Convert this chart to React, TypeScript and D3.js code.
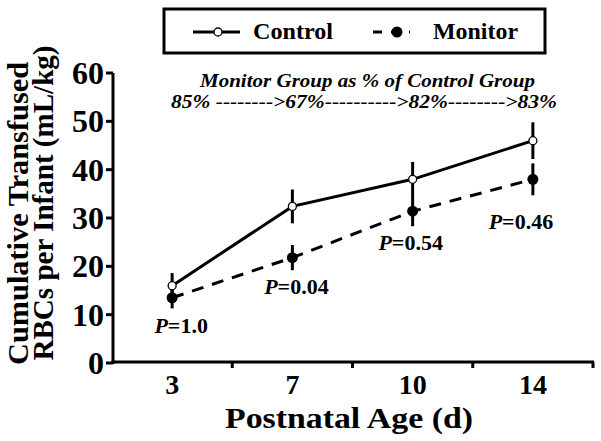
import React from "react";
import * as d3 from "d3";

const categories = ["3", "7", "10", "14"];
const controlMean = [16, 32.4, 38, 46];
const controlErr = [2.6, 3.5, 3.6, 3.8];
const monitorMean = [13.5, 21.8, 31.4, 38];
const monitorErr = [2.2, 2.6, 3.1, 3.3];
const pValues = ["1.0", "0.04", "0.54", "0.46"];
const yTicks = [0, 10, 20, 30, 40, 50, 60];

const W = 601;
const H = 441;
const FONT = "'Liberation Serif', 'Times New Roman', serif";

// label layout (pixel offsets relative to band centre / monitor point)
const pLabelDx = [9, 4, -2, -12];
const pLabelDy = [35, 36, 39, 50];

export default function App() {
  const x = d3.scaleBand<string>().domain(categories).range([112, 593]).padding(0);
  const y = d3.scaleLinear().domain([0, 60]).range([363, 73]);
  const cx = (c: string) => (x(c) as number) + x.bandwidth() / 2;

  const line = d3
    .line<number>()
    .x((_, i) => cx(categories[i]))
    .y((d) => y(d));

  const boundaries = categories.map((c) => (x(c) as number) + x.bandwidth());

  return (
    <svg
      width={W}
      height={H}
      style={{ position: "absolute", left: 0, top: 0, background: "#fff" }}
      fontFamily={FONT}
      fontWeight="bold"
    >
      <rect x={0} y={0} width={W} height={H} fill="#fff" />

      {/* Legend */}
      <rect x={164} y={9} width={381} height={44} fill="none" stroke="#000" strokeWidth={3} />
      <line x1={193} x2={240} y1={32} y2={32} stroke="#000" strokeWidth={3} />
      <circle cx={218} cy={32} r={4} fill="#fff" stroke="#000" strokeWidth={1.3} />
      <text x={253} y={39} fontSize={24} textLength={80} lengthAdjust="spacingAndGlyphs">
        Control
      </text>
      <line x1={373} x2={410} y1={32} y2={32} stroke="#000" strokeWidth={3} strokeDasharray="9,9" />
      <circle cx={397} cy={32} r={5.5} fill="#000" />
      <text x={433} y={39} fontSize={24} textLength={85} lengthAdjust="spacingAndGlyphs">
        Monitor
      </text>

      {/* Subtitle */}
      <text x={200} y={87} fontSize={19} fontStyle="italic" textLength={335} lengthAdjust="spacingAndGlyphs">
        Monitor Group as % of Control Group
      </text>
      <text x={171} y={108} fontSize={19} fontStyle="italic" textLength={386} lengthAdjust="spacingAndGlyphs">
        85% --------&gt;67%----------&gt;82%--------&gt;83%
      </text>

      {/* Y axis */}
      <line x1={113} x2={113} y1={y(60)} y2={y(0) + 1} stroke="#000" strokeWidth={3} />
      {yTicks.map((t) => (
        <g key={t}>
          <line x1={106} x2={113} y1={y(t)} y2={y(t)} stroke="#000" strokeWidth={3} />
          <text x={104} y={y(t) + 11} fontSize={32} textAnchor="end">
            {t}
          </text>
        </g>
      ))}

      {/* X axis */}
      <line x1={111.5} x2={594} y1={362} y2={362} stroke="#000" strokeWidth={3} />
      {boundaries.map((b, i) => (
        <line key={i} x1={b} x2={b} y1={362} y2={368} stroke="#000" strokeWidth={3} />
      ))}
      {categories.map((c) => (
        <text key={c} x={cx(c)} y={394} fontSize={28} textAnchor="middle" transform={`translate(0,0)`}>
          {c}
        </text>
      ))}
      <text x={349} y={428} fontSize={29} textAnchor="middle" textLength={248} lengthAdjust="spacingAndGlyphs">
        Postnatal Age (d)
      </text>

      {/* Y title */}
      <text
        transform="translate(28,213.5) rotate(-90)"
        fontSize={30}
        textAnchor="middle"
        textLength={303}
        lengthAdjust="spacingAndGlyphs"
      >
        Cumulative Transfused
      </text>
      <text
        transform="translate(53,203) rotate(-90)"
        fontSize={30}
        textAnchor="middle"
        textLength={315}
        lengthAdjust="spacingAndGlyphs"
      >
        RBCs per Infant (mL/kg)
      </text>

      {/* Series lines */}
      <path d={line(controlMean) as string} fill="none" stroke="#000" strokeWidth={3} />
      <path
        d={line(monitorMean) as string}
        fill="none"
        stroke="#000"
        strokeWidth={3}
        strokeDasharray="12,9"
      />

      {/* Error bars */}
      {categories.map((c, i) => (
        <g key={"e" + c}>
          <line
            x1={cx(c)}
            x2={cx(c)}
            y1={y(controlMean[i] + controlErr[i])}
            y2={y(controlMean[i] - controlErr[i])}
            stroke="#000"
            strokeWidth={3}
          />
          <line
            x1={cx(c)}
            x2={cx(c)}
            y1={y(monitorMean[i] + monitorErr[i])}
            y2={y(monitorMean[i] - monitorErr[i])}
            stroke="#000"
            strokeWidth={3}
          />
        </g>
      ))}

      {/* Markers */}
      {categories.map((c, i) => (
        <g key={"m" + c}>
          <circle cx={cx(c)} cy={y(monitorMean[i])} r={5.5} fill="#000" />
          <circle cx={cx(c)} cy={y(controlMean[i])} r={4} fill="#fff" stroke="#000" strokeWidth={1.3} />
        </g>
      ))}

      {/* P labels */}
      {categories.map((c, i) => (
        <text
          key={"p" + c}
          x={cx(c) + pLabelDx[i]}
          y={y(monitorMean[i]) + pLabelDy[i]}
          fontSize={22}
          textAnchor="middle"
        >
          <tspan fontStyle="italic">P</tspan>
          <tspan>={pValues[i]}</tspan>
        </text>
      ))}
    </svg>
  );
}
